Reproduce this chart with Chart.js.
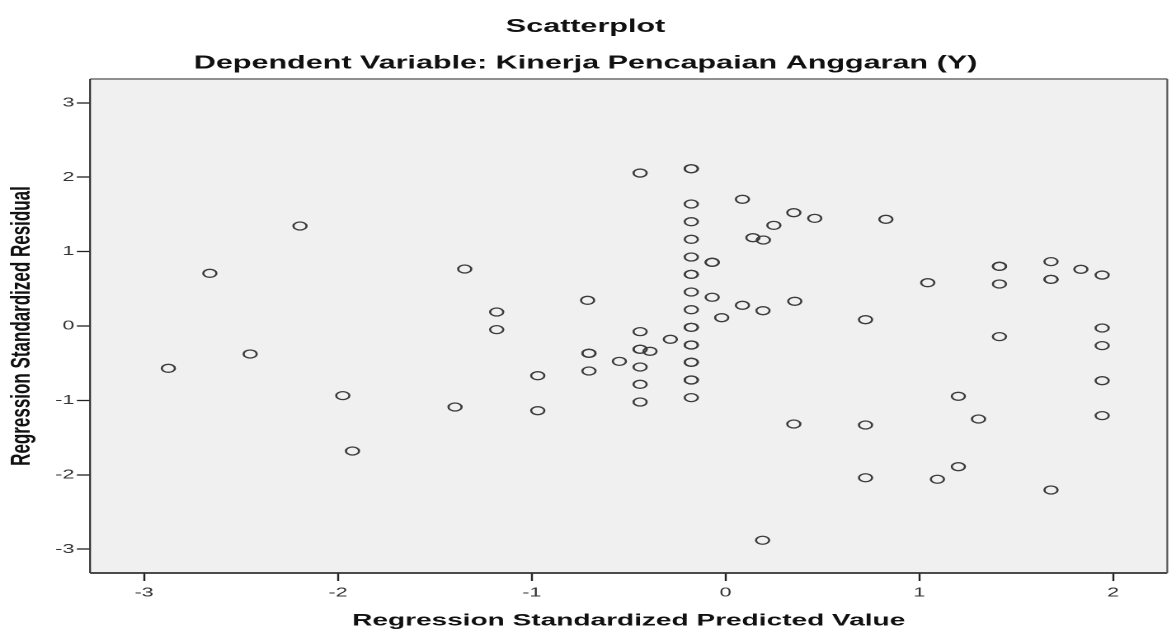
<!DOCTYPE html>
<html>
<head>
<meta charset="utf-8">
<script src="https://cdn.jsdelivr.net/npm/chart.js@4.4.0/dist/chart.umd.min.js"></script>
<style>
  html, body { margin: 0; padding: 0; background: #fff; overflow: hidden; }
  /* the reference is an SPSS picture stretched sideways, so the chart is laid out narrow and stretched */
  #wrap { width: 713px; height: 634px; transform: scaleX(1.6494); transform-origin: 0 0; }
</style>
</head>
<body>
<div id="wrap"><canvas id="chart" width="713" height="634"></canvas></div>
<script>
const predicted = [
  -2.875, -2.661, -2.453, -2.196, -1.975, -1.925, -1.396, -1.346,
  -1.181, -1.181, -0.969, -0.969, -0.712, -0.705, -0.705, -0.705, -0.548,
  -0.441, -0.441, -0.441, -0.441, -0.390, -0.441, -0.441, -0.441, -0.285,
  -0.177, -0.177, -0.177, -0.177, -0.177, -0.177, -0.177, -0.177, -0.177,
  -0.177, -0.177, -0.177, -0.177, -0.177, -0.177, -0.177, -0.177, -0.177, -0.177,
  -0.069, -0.069, -0.069, -0.020, 0.087, 0.087, 0.141, 0.195, 0.193, 0.249,
  0.352, 0.357, 0.352, 0.460, 0.191,
  0.827, 0.722, 0.722, 0.722, 1.043, 1.093, 1.201, 1.201, 1.305,
  1.413, 1.413, 1.413, 1.413, 1.679, 1.679, 1.679, 1.679, 1.833,
  1.943, 1.943, 1.943, 1.943, 1.943
];
const residual = [
  -0.569, 0.708, -0.376, 1.344, -0.936, -1.680, -1.089, 0.766,
  0.188, -0.049, -0.668, -1.138, 0.345, -0.367, -0.367, -0.605, -0.475,
  2.056, -0.076, -0.313, -0.313, -0.340, -0.551, -0.784, -1.022, -0.179,
  2.114, 2.114, 1.640, 1.402, 1.165, 0.927, 0.694, 0.694, 0.457,
  0.219, -0.018, -0.018, -0.255, -0.255, -0.488, -0.488, -0.726, -0.726, -0.963,
  0.856, 0.856, 0.386, 0.112, 1.703, 0.278, 1.187, 1.156, 0.206, 1.353,
  1.523, 0.332, -1.317, 1.447, -2.880,
  1.434, 0.085, -1.331, -2.040, 0.582, -2.060, -0.945, -1.891, -1.250,
  0.802, 0.802, 0.565, -0.143, 0.865, 0.627, 0.627, -2.204, 0.762,
  0.685, -0.027, -0.264, -0.735, -1.205
];
const xTicks = [-3, -2, -1, 0, 1, 2];
const yTicks = [-3, -2, -1, 0, 1, 2, 3];

const font = "'Liberation Sans', Arial, sans-serif";

const points = predicted.map((x, i) => ({ x: x, y: residual[i] }));

// grey plot background and the frame round it
const plotFrame = {
  id: 'plotFrame',
  beforeDraw(chart) {
    const { ctx, chartArea: a } = chart;
    ctx.save();
    ctx.fillStyle = '#f0f0f0';
    ctx.fillRect(a.left, a.top, a.right - a.left, a.bottom - a.top);
    ctx.restore();
  },
  afterDraw(chart) {
    const { ctx, chartArea: a } = chart;
    ctx.save();
    ctx.strokeStyle = '#808080';
    ctx.lineWidth = 1.7;
    ctx.beginPath(); ctx.moveTo(a.left, a.top); ctx.lineTo(a.right, a.top); ctx.stroke();
    ctx.strokeStyle = '#333';
    ctx.beginPath(); ctx.moveTo(a.left, a.bottom); ctx.lineTo(a.right, a.bottom); ctx.stroke();
    ctx.lineWidth = 1.1;
    ctx.beginPath(); ctx.moveTo(a.left, a.top); ctx.lineTo(a.left, a.bottom); ctx.stroke();
    ctx.strokeStyle = '#555';
    ctx.beginPath(); ctx.moveTo(a.right, a.top); ctx.lineTo(a.right, a.bottom); ctx.stroke();
    ctx.restore();
  }
};

new Chart(document.getElementById('chart'), {
  type: 'scatter',
  data: {
    datasets: [{
      data: points,
      pointStyle: 'circle',
      pointRadius: 4,
      pointHoverRadius: 4,
      pointBorderWidth: 1.3,
      pointBorderColor: '#3c3c3c',
      pointBackgroundColor: 'rgba(0,0,0,0)'
    }]
  },
  plugins: [plotFrame],
  options: {
    responsive: false,
    devicePixelRatio: 2,
    animation: false,
    layout: { padding: { left: 0, right: 3, top: 0, bottom: 0 } },
    plugins: {
      legend: { display: false },
      tooltip: { enabled: false },
      title: {
        display: true,
        text: 'Scatterplot',
        color: '#111',
        font: { family: font, size: 18.5, weight: 'bold' },
        padding: { top: 16, bottom: 7 }
      },
      subtitle: {
        display: true,
        text: 'Dependent Variable: Kinerja Pencapaian Anggaran (Y)',
        color: '#111',
        font: { family: font, size: 18.5, weight: 'bold' },
        padding: { top: 7, bottom: 4.6 }
      }
    },
    scales: {
      x: {
        type: 'linear',
        min: -3.279,
        max: 2.279,
        afterBuildTicks: (scale) => { scale.ticks = xTicks.map(v => ({ value: v })); },
        afterFit: (scale) => { scale.height = 61; },
        ticks: {
          color: '#333',
          font: { family: font, size: 13 },
          padding: 4,
          maxRotation: 0
        },
        grid: {
          drawOnChartArea: false,
          drawTicks: true,
          tickLength: 8,
          tickColor: '#222',
          tickWidth: 1.2
        },
        border: { display: false },
        title: {
          display: true,
          text: 'Regression Standardized Predicted Value',
          color: '#111',
          font: { family: font, size: 17, weight: 'bold' },
          padding: { top: 0, bottom: 2.8 }
        }
      },
      y: {
        type: 'linear',
        min: -3.32,
        max: 3.32,
        afterBuildTicks: (scale) => { scale.ticks = yTicks.map(v => ({ value: v })); },
        afterFit: (scale) => { scale.width = 54.6; },
        ticks: {
          color: '#333',
          font: { family: font, size: 13 },
          padding: 1.5
        },
        grid: {
          drawOnChartArea: false,
          drawTicks: true,
          tickLength: 8,
          tickColor: '#222',
          tickWidth: 1.3
        },
        border: { display: false },
        title: {
          display: true,
          text: 'Regression Standardized Residual',
          color: '#111',
          font: { family: font, size: 17, weight: 'bold' },
          padding: { top: 3, bottom: 0 }
        }
      }
    }
  }
});
</script>
</body>
</html>
